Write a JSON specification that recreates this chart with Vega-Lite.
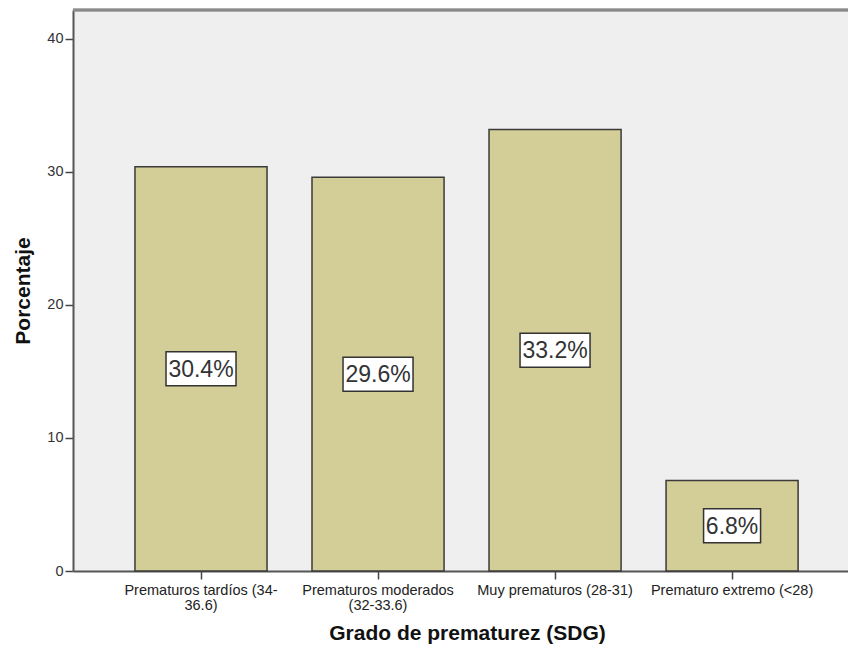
{
  "$schema": "https://vega.github.io/schema/vega-lite/v6.json",
  "width": 775,
  "height": 561,
  "autosize": {"type": "none"},
  "padding": {"left": 73, "top": 10, "right": 0, "bottom": 81},
  "background": "white",
  "config": {"view": {"stroke": null, "fill": "#efefef"}, "font": "Liberation Sans"},
  "data": {"values": [
    {"grupo": "Prematuros tardíos (34-36.6)", "valor": 30.4},
    {"grupo": "Prematuros moderados (32-33.6)", "valor": 29.6},
    {"grupo": "Muy prematuros (28-31)", "valor": 33.2},
    {"grupo": "Prematuro extremo (<28)", "valor": 6.8}
  ]},
  "layer": [
    {
      "mark": {"type": "bar", "fill": "#d3cd97", "stroke": "#3a3a3a", "strokeWidth": 1.5},
      "encoding": {
        "x": {"field": "grupo", "type": "nominal", "sort": null,
          "scale": {"paddingInner": 0.254, "paddingOuter": 0.316, "align": 0.554},
          "axis": {"labelExpr": "datum.value == 'Prematuros tardíos (34-36.6)' ? ['Prematuros tardíos (34-', '36.6)'] : datum.value == 'Prematuros moderados (32-33.6)' ? ['Prematuros moderados', '(32-33.6)'] : datum.value",
            "labelAngle": 0, "labelFontSize": 14.5, "labelColor": "#222", "labelPadding": 4, "labelLineHeight": 15, "labelOverlap": false, "labelBound": false,
            "domainColor": "#555", "domainWidth": 2, "tickColor": "#444", "tickWidth": 1.5, "tickSize": 8,
            "title": "Grado de prematurez (SDG)", "titleFontSize": 21, "titleFontWeight": "bold", "titleColor": "#111", "titlePadding": 11, "titleX": 394}},
        "y": {"field": "valor", "type": "quantitative",
          "scale": {"domain": [0, 42.18], "nice": false},
          "axis": {"values": [0, 10, 20, 30, 40], "grid": false, "domainColor": "#555", "domainWidth": 2,
            "tickColor": "#444", "tickWidth": 1.5, "tickSize": 8, "labelFontSize": 14.5, "labelColor": "#333", "labelPadding": 2,
            "title": "Porcentaje", "titleFontSize": 21, "titleFontWeight": "bold", "titleColor": "#111", "titlePadding": 13}}
      }
    },
    {
      "mark": {"type": "rule", "color": "#8a8a8a", "strokeWidth": 2.5},
      "encoding": {"y": {"datum": 42.18, "type": "quantitative", "scale": {"domain": [0, 42.18], "nice": false}, "axis": null}}
    },
    {
      "encoding": {
        "x": {"field": "grupo", "type": "nominal", "sort": null,
          "scale": {"paddingInner": 0.254, "paddingOuter": 0.316, "align": 0.554},
          "axis": {"labelExpr": "datum.value == 'Prematuros tardíos (34-36.6)' ? ['Prematuros tardíos (34-', '36.6)'] : datum.value == 'Prematuros moderados (32-33.6)' ? ['Prematuros moderados', '(32-33.6)'] : datum.value",
            "labelAngle": 0, "labelFontSize": 14.5, "labelColor": "#222", "labelPadding": 4, "labelLineHeight": 15, "labelOverlap": false, "labelBound": false,
            "domainColor": "#555", "domainWidth": 2, "tickColor": "#444", "tickWidth": 1.5, "tickSize": 8,
            "title": "Grado de prematurez (SDG)", "titleFontSize": 21, "titleFontWeight": "bold", "titleColor": "#111", "titlePadding": 11, "titleX": 394}},
        "y": {"field": "valor", "type": "quantitative", "scale": {"domain": [0, 84.36], "nice": false}, "axis": null}
      },
      "layer": [
        {
          "mark": {"type": "point", "filled": true, "fill": "white", "opacity": 1, "stroke": "#333", "strokeWidth": 1.5, "size": 4900},
          "encoding": {
            "shape": {"condition": {"test": "datum.valor < 10", "value": "M-0.814,-0.486H0.814V0.486H-0.814Z"}, "value": "M-1,-0.486H1V0.486H-1Z"}
          }
        },
        {
          "mark": {"type": "text", "fontSize": 23, "color": "#333", "baseline": "middle", "align": "center", "dy": 1,
            "text": {"expr": "format(datum.valor, '.1f') + '%'"}}
        }
      ]
    }
  ],
  "resolve": {"scale": {"y": "independent"}}
}
